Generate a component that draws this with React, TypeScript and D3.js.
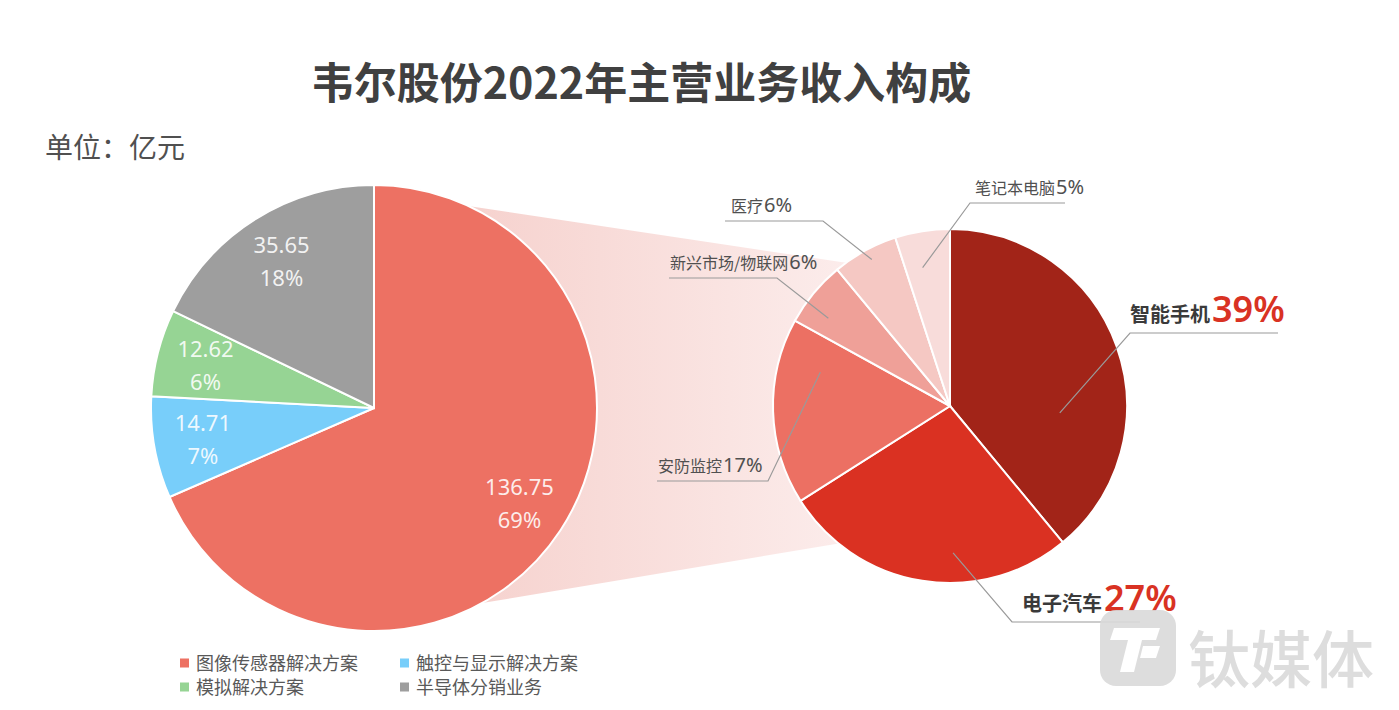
import React from 'react';
import * as d3 from 'd3';

// ---------- data ----------
const titleText = '韦尔股份2022年主营业务收入构成';
const unitText = '单位：亿元';

const leftCategories = ['图像传感器解决方案', '触控与显示解决方案', '模拟解决方案', '半导体分销业务'];
const leftValues = [136.75, 14.71, 12.62, 35.65];
const leftPercents = ['69%', '7%', '6%', '18%'];

const rightCategories = ['智能手机', '电子汽车', '安防监控', '新兴市场/物联网', '医疗', '笔记本电脑'];
const rightValues = [39, 27, 17, 6, 6, 5];
const rightPercents = ['39%', '27%', '17%', '6%', '6%', '5%'];

// ---------- styles / layout ----------
const W = 1399;
const H = 710;
const leftColors = ['#ED7163', '#78CEFA', '#96D494', '#9E9E9E'];
const rightColors = ['#A22418', '#DA3122', '#EC7063', '#EFA098', '#F5C8C3', '#F8DCDA'];
const LC = { x: 374, y: 408, r: 223 };
const RC = { x: 950, y: 406, r: 177 };
const CJK = '"Noto Sans CJK SC", "Noto Sans", sans-serif';
const NUM = '"Noto Sans", "Open Sans", sans-serif';

// label layout for the right pie: anchor angle (deg, clockwise from 12 o'clock), anchor radius,
// elbow point, end of horizontal line, text start, whether big
const rightLabelLayout = [
  { ang: 93.6, rad: 110, ex: 1130, ey: 333, endX: 1278, tx: 1130, big: true },
  { ang: 178.8, rad: 147, ex: 1012, ey: 622, endX: 1140, tx: 1022, big: true },
  { ang: 284.6, rad: 134, ex: 768, ey: 481, endX: 657, tx: 658, big: false },
  { ang: 305.8, rad: 150, ex: 777, ey: 278, endX: 669, tx: 670, big: false },
  { ang: 331.9, rad: 166, ex: 823, ey: 221, endX: 725, tx: 731, big: false },
  { ang: 348.8, rad: 141, ex: 970, ey: 203, endX: 1065, tx: 975, big: false },
];

const polar = (c: { x: number; y: number }, r: number, deg: number) => {
  const a = (deg * Math.PI) / 180;
  return [c.x + r * Math.sin(a), c.y - r * Math.cos(a)];
};

export default function App() {
  const pie = d3.pie<number>().sort(null).value((d) => d);
  const leftArcs = pie(leftValues);
  const rightArcs = pie(rightValues);

  const leftArc = d3.arc<d3.PieArcDatum<number>>().innerRadius(0).outerRadius(LC.r);
  const leftLabelArc = d3.arc<d3.PieArcDatum<number>>().innerRadius(LC.r * 0.78).outerRadius(LC.r * 0.78);
  const rightArc = d3.arc<d3.PieArcDatum<number>>().innerRadius(0).outerRadius(RC.r);

  // connection band
  const p1 = polar(LC, LC.r, 25);
  const p2 = polar(RC, RC.r, 324);
  const p3 = polar(RC, RC.r, 219);
  const p4 = polar(LC, LC.r, 151);
  const band = d3.line()([p1 as [number, number], p2 as [number, number], [RC.x, RC.y], p3 as [number, number], p4 as [number, number], [LC.x, LC.y]]) + 'Z';

  return (
    <svg width={W} height={H} style={{ position: 'absolute', left: 0, top: 0, background: '#fff' }}>
      <defs>
        <linearGradient id="bandGrad" gradientUnits="userSpaceOnUse" x1={470} y1={0} x2={860} y2={0}>
          <stop offset="0%" stopColor="#F6D2CE" />
          <stop offset="100%" stopColor="#FCEDEC" />
        </linearGradient>
      </defs>
      <rect width={W} height={H} fill="#fff" />

      {/* title */}
      <text x={641} y={99} textAnchor="middle" fontFamily={CJK} fontWeight={700} fontSize={43} fill="#404040">
        {titleText}
      </text>
      <text x={45} y={158} fontFamily={CJK} fontSize={28} fill="#505050">
        {unitText}
      </text>

      {/* band */}
      <path d={band} fill="url(#bandGrad)" />

      {/* left pie */}
      <g transform={`translate(${LC.x},${LC.y})`}>
        {leftArcs.map((a, i) => (
          <path key={i} d={leftArc(a) || ''} fill={leftColors[i]} stroke="#fff" strokeWidth={2} />
        ))}
        {leftArcs.map((a, i) => {
          const [cx, cy] = leftLabelArc.centroid(a);
          return (
            <g key={'l' + i} fontFamily={NUM} fontSize={22} fill="#fff" fillOpacity={0.88} textAnchor="middle">
              <text x={cx} y={cy - 8}>{leftValues[i].toFixed(2)}</text>
              <text x={cx} y={cy + 25}>{leftPercents[i]}</text>
            </g>
          );
        })}
      </g>

      {/* right pie */}
      <g transform={`translate(${RC.x},${RC.y})`}>
        {rightArcs.map((a, i) => (
          <path key={i} d={rightArc(a) || ''} fill={rightColors[i]} stroke="#fff" strokeWidth={2} />
        ))}
      </g>

      {/* right labels */}
      {rightArcs.map((a, i) => {
        const L = rightLabelLayout[i];
        const [ax, ay] = polar(RC, L.rad, L.ang);
        const pts = `${ax},${ay} ${L.ex},${L.ey} ${L.endX},${L.ey}`;
        return (
          <g key={'r' + i}>
            <polyline points={pts} fill="none" stroke="#9A9A9A" strokeWidth={1.2} />
            {L.big ? (
              <text x={L.tx} y={L.ey - 11}>
                <tspan fontFamily={CJK} fontWeight={700} fontSize={20} fill="#3A3A3A">{rightCategories[i]}</tspan>
                <tspan dx={2} fontFamily={NUM} fontWeight={600} fontSize={36} fill="#D93223">{rightPercents[i]}</tspan>
              </text>
            ) : (
              <text x={L.tx} y={L.ey - 9}>
                <tspan fontFamily={CJK} fontSize={16} fill="#505050">{rightCategories[i]}</tspan>
                <tspan dx={1} fontFamily={NUM} fontSize={20} fill="#505050">{rightPercents[i]}</tspan>
              </text>
            )}
          </g>
        );
      })}

      {/* legend */}
      {leftCategories.map((c, i) => {
        const col = i % 2;
        const row = Math.floor(i / 2);
        const x = 180 + col * 220;
        const y = 663 + row * 24;
        return (
          <g key={'lg' + i}>
            <rect x={x} y={y - 4.5} width={9} height={9} fill={leftColors[i]} />
            <text x={x + 16} y={y + 6.5} fontFamily={CJK} fontSize={18} fill="#595959">{c}</text>
          </g>
        );
      })}

      {/* watermark */}
      <g opacity={0.9}>
        <rect x={1100} y={610} width={76} height={76} rx={16} fill="#DADADA" />
        <path d="M1114,628 L1160,628 L1156,640 L1142,640 L1134,672 L1120,672 L1128,640 L1110,640 Z" fill="#fff" />
        <path d="M1143,646 L1160,646 L1156,658 L1140,658 Z" fill="#fff" />
        <text x={1188} y={683} fontFamily={CJK} fontSize={62} fontWeight={500} fill="#DADADA">钛媒体</text>
      </g>
    </svg>
  );
}
